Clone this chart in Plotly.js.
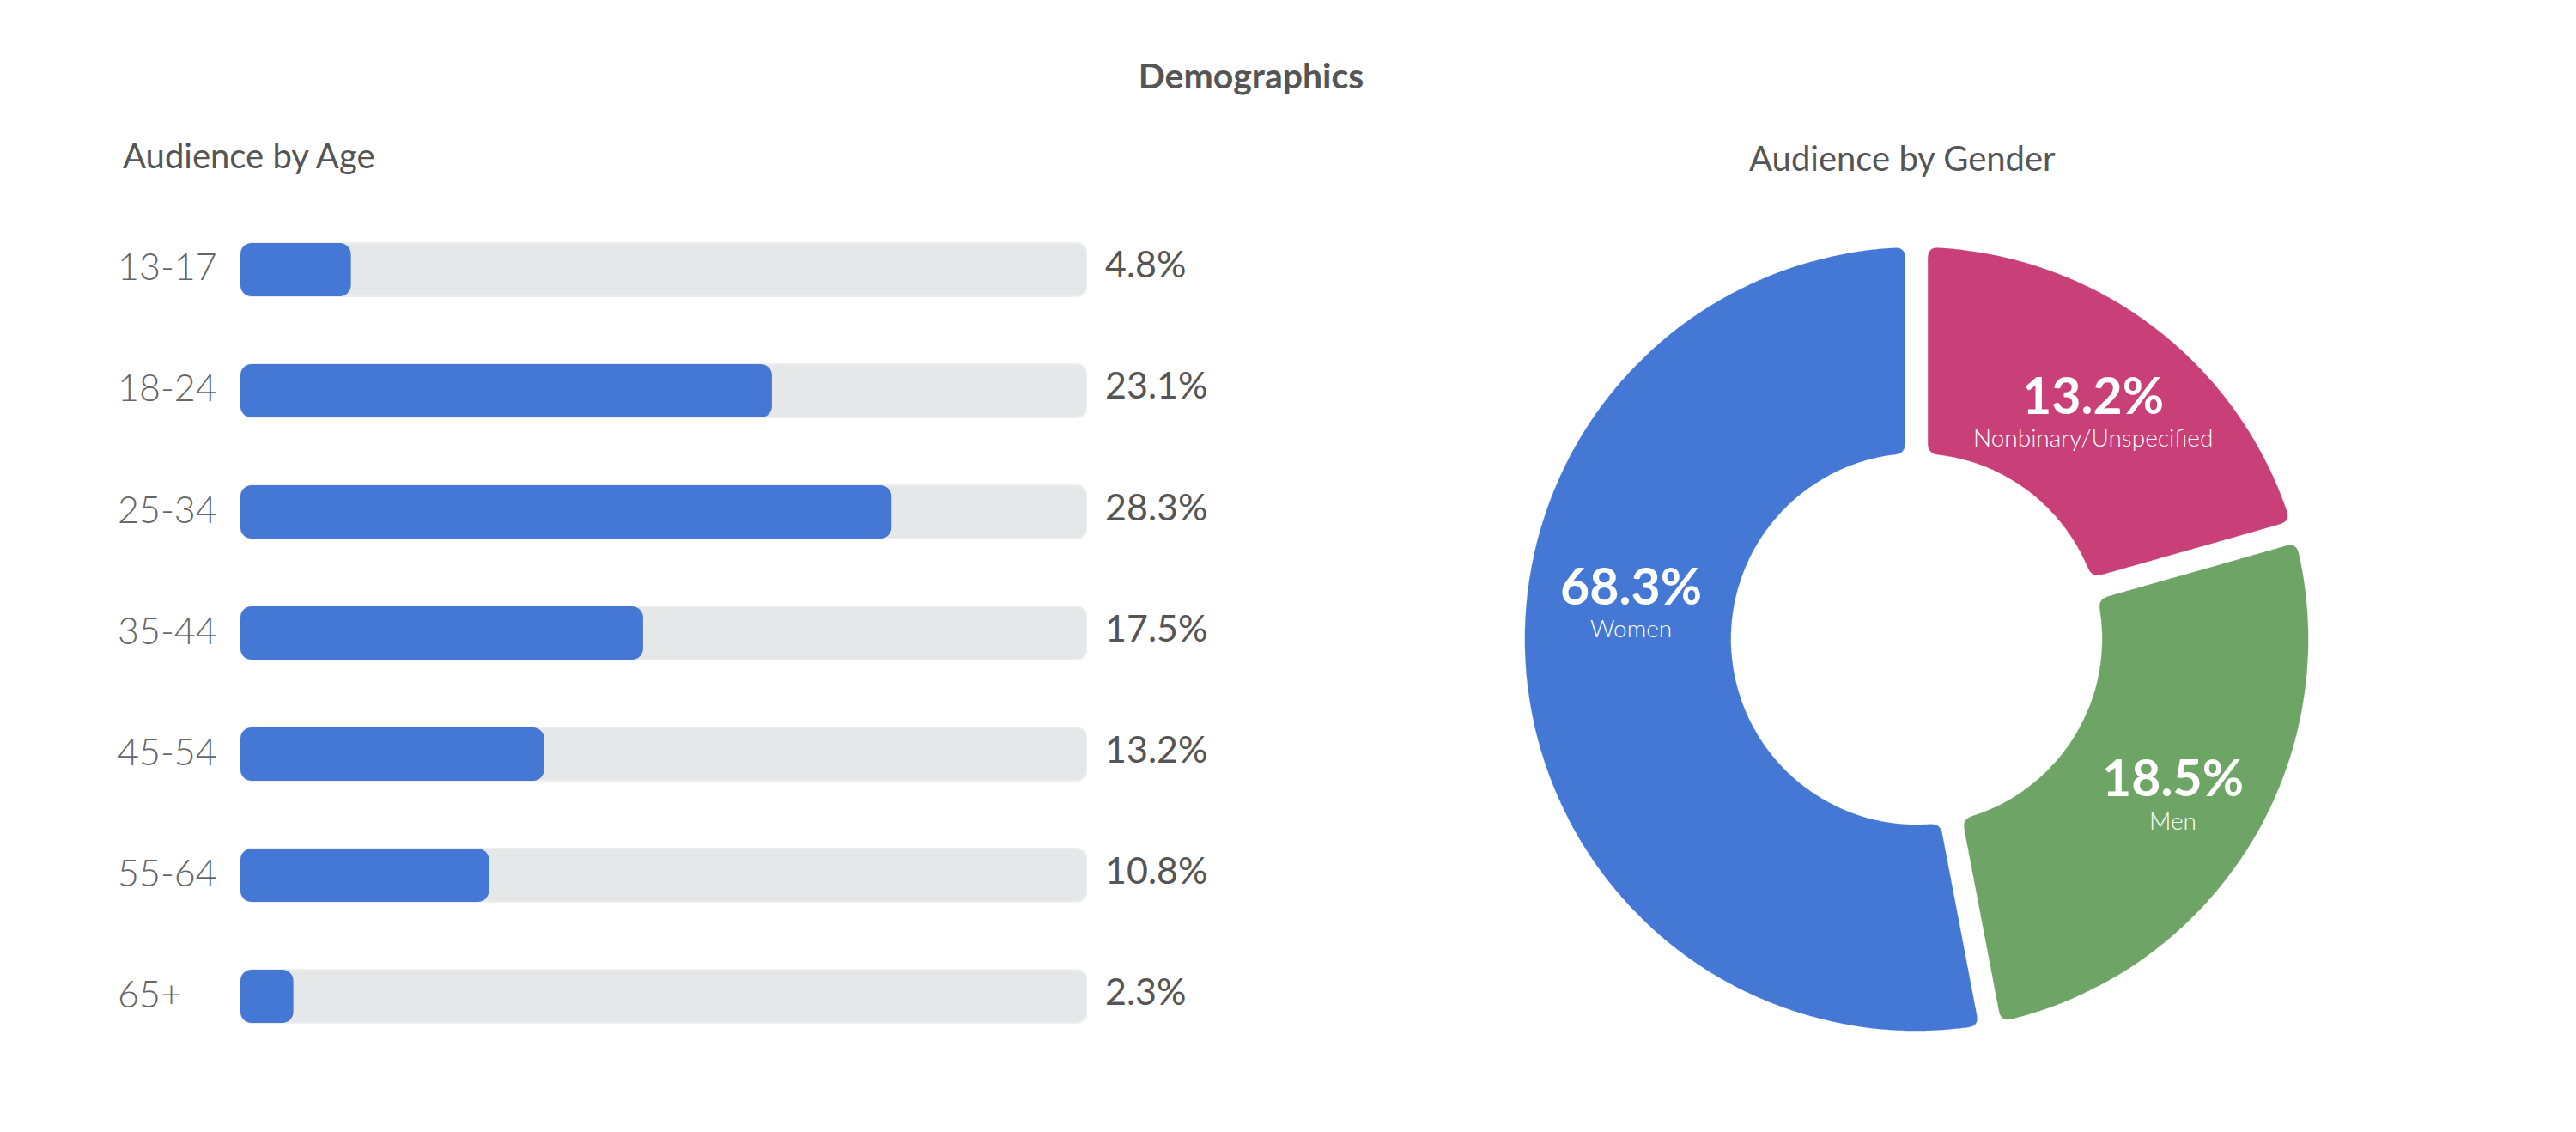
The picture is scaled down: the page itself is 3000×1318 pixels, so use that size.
<!DOCTYPE html>
<html>
<head>
<meta charset="utf-8">
<script src="https://cdn.plot.ly/plotly-3.0.1.min.js"></script>
<style>
  html, body { margin: 0; padding: 0; background: #ffffff; }
  #chart { width: 3000px; height: 1318px; }
</style>
</head>
<body>
<div id="chart"></div>
<script>
// ---- data ----
const ageGroups = ['13-17', '18-24', '25-34', '35-44', '45-54', '55-64', '65+'];
const agePct = [4.8, 23.1, 28.3, 17.5, 13.2, 10.8, 2.3];
const ageAxisMax = 36.8;                       // full length of the grey track

const genderLabels = ['Nonbinary/Unspecified', 'Men', 'Women'];
const genderPctText = ['13.2%', '18.5%', '68.3%'];
const genderShare = [20.6, 26.4, 53.0];        // slice sizes as drawn in the picture
const genderColors = ['#C94079', '#6EA465', '#4577D4'];

// ---- styling ----
const FONT = 'Lato, "Open Sans", sans-serif';
const BLUE = '#4577D4';
const TRACK = '#E6E7E9';
const W = 3000, H = 1318;
const px = v => v / W;
const py = v => 1 - v / H;

const barWidth = 0.44;
const radius = 13;
const zeros = ageGroups.map(() => 0);

const traces = [
  {
    type: 'bar', orientation: 'h', y: ageGroups, x: ageGroups.map(() => ageAxisMax), base: zeros,
    width: barWidth, marker: { color: TRACK, cornerradius: radius, line: { color: '#EEEEEF', width: 2 } },
    hoverinfo: 'skip', showlegend: false
  },
  {
    type: 'bar', orientation: 'h', y: ageGroups, x: agePct, base: zeros,
    width: barWidth, marker: { color: BLUE, cornerradius: radius, line: { width: 0 } },
    hoverinfo: 'skip', showlegend: false
  },
  {
    type: 'pie',
    labels: genderLabels,
    values: genderShare,
    sort: false,
    direction: 'clockwise',
    rotation: 0,
    hole: 0.433,
    domain: { x: [0.5875, 0.9005], y: [0.0793, 0.7917] },
    marker: { colors: genderColors, line: { color: '#ffffff', width: 27 } },
    textinfo: 'none',
    hoverinfo: 'skip',
    showlegend: false
  }
];

const annotations = [];
ageGroups.forEach((g, i) => {
  annotations.push({
    xref: 'paper', yref: 'y', x: px(135), y: g, xanchor: 'left', yanchor: 'middle', yshift: 4,
    text: g, showarrow: false,
    font: { family: FONT, size: 43, color: '#666666', weight: 300 }
  });
  annotations.push({
    xref: 'paper', yref: 'y', x: px(1285), y: g, xanchor: 'left', yanchor: 'middle', yshift: 7,
    text: agePct[i].toFixed(1) + '%', showarrow: false,
    font: { family: FONT, size: 43, color: '#555555' }
  });
});
annotations.push({
  xref: 'paper', yref: 'paper', x: px(141), y: py(181), xanchor: 'left', yanchor: 'middle',
  text: 'Audience by Age', showarrow: false,
  font: { family: FONT, size: 40, color: '#555555' }
});
annotations.push({
  xref: 'paper', yref: 'paper', x: px(2215), y: py(184), xanchor: 'center', yanchor: 'middle',
  text: 'Audience by Gender', showarrow: false,
  font: { family: FONT, size: 40, color: '#555555' }
});

// labels inside the donut slices
const sliceLabelPos = [
  { x: 2437, yNum: 457, yLab: 508 },   // Nonbinary/Unspecified
  { x: 2530, yNum: 901, yLab: 954 },   // Men
  { x: 1899, yNum: 678, yLab: 730 }    // Women
];
genderLabels.forEach((lab, i) => {
  const p = sliceLabelPos[i];
  annotations.push({
    xref: 'paper', yref: 'paper', x: px(p.x), y: py(p.yNum), xanchor: 'center', yanchor: 'middle', yshift: -3,
    text: '<b>' + genderPctText[i] + '</b>', showarrow: false,
    font: { family: FONT, size: 59, color: '#ffffff' }
  });
  annotations.push({
    xref: 'paper', yref: 'paper', x: px(p.x), y: py(p.yLab), xanchor: 'center', yanchor: 'middle', yshift: -1,
    text: lab, showarrow: false,
    font: { family: FONT, size: 28, color: '#ffffff', weight: 300 }
  });
});

const rowTop = 243.5, rowBottom = 1230.5;
const layout = {
  width: W, height: H,
  margin: { l: 0, r: 0, t: 0, b: 0, pad: 0 },
  paper_bgcolor: '#ffffff', plot_bgcolor: '#ffffff',
  font: { family: FONT, color: '#555555' },
  title: {
    text: '<b>Demographics</b>', x: px(1457), xanchor: 'center', xref: 'paper',
    y: py(89), yanchor: 'middle', yref: 'container',
    font: { family: FONT, size: 41, color: '#555555' }
  },
  barmode: 'overlay',
  xaxis: {
    domain: [px(280), px(1266)], range: [0, ageAxisMax],
    showgrid: false, zeroline: false, showticklabels: false, showline: false, fixedrange: true
  },
  yaxis: {
    domain: [py(rowBottom), py(rowTop)],
    type: 'category', categoryarray: ageGroups, categoryorder: 'array',
    range: [ageGroups.length - 0.5, -0.5],
    showgrid: false, zeroline: false, showticklabels: false, showline: false, fixedrange: true
  },
  annotations: annotations,
  hovermode: false
};

// Rounded, separated donut segments: each slice is shrunk by half the gap
// (blur + alpha threshold), which also rounds its corners.
function roundDonutSlices(gd) {
  const svg = gd.querySelector('svg.main-svg');
  const paths = gd.querySelectorAll('.pielayer g.slice path.surface');
  if (!svg || !paths.length) return;
  const NS = 'http://www.w3.org/2000/svg';
  let defs = svg.querySelector('defs');
  if (!defs) { defs = document.createElementNS(NS, 'defs'); svg.insertBefore(defs, svg.firstChild); }
  const f = document.createElementNS(NS, 'filter');
  f.setAttribute('id', 'donut-round');
  f.setAttribute('x', '-5%'); f.setAttribute('y', '-5%');
  f.setAttribute('width', '110%'); f.setAttribute('height', '110%');
  f.setAttribute('color-interpolation-filters', 'sRGB');
  f.innerHTML =
    '<feGaussianBlur in="SourceAlpha" stdDeviation="10" result="b"/>' +
    '<feComponentTransfer in="b" result="m"><feFuncA type="linear" slope="50" intercept="-45.07"/></feComponentTransfer>' +
    '<feComposite in="SourceGraphic" in2="m" operator="in"/>';
  defs.appendChild(f);
  paths.forEach(p => {
    p.style.strokeWidth = '0';
    p.setAttribute('filter', 'url(#donut-round)');
  });
}

Plotly.newPlot('chart', traces, layout, { staticPlot: true, displayModeBar: false })
  .then(gd => roundDonutSlices(gd));
</script>
</body>
</html>
